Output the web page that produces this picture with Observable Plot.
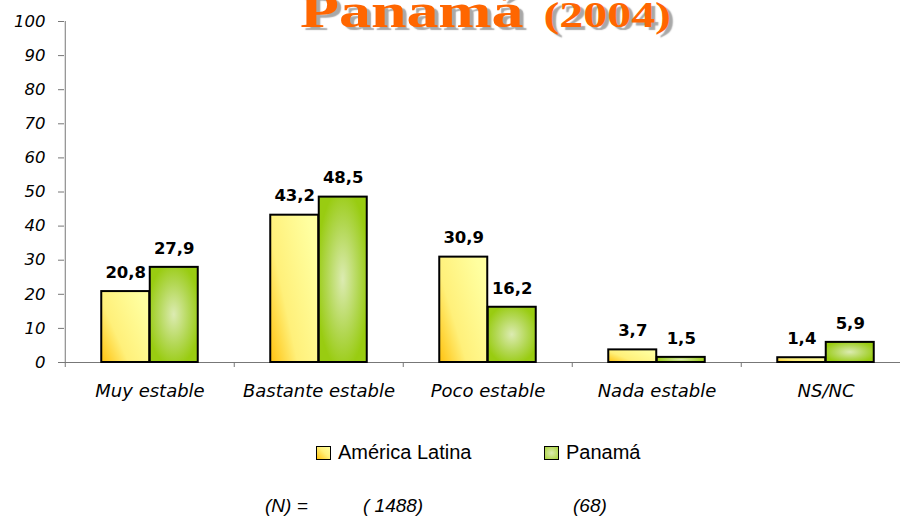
<!DOCTYPE html>
<html>
<head>
<meta charset="utf-8">
<script src="https://cdn.jsdelivr.net/npm/d3@7"></script>
<script src="https://cdn.jsdelivr.net/npm/@observablehq/plot@0.6"></script>
<style>
  body { margin: 0; background: #fff; }
  #wrap { position: relative; width: 900px; height: 516px; overflow: hidden; background: #fff; }
  #chart { position: absolute; left: 0; top: 0; }
  #chart svg g[aria-label="y-axis tick label"], #chart svg g[aria-label="y-axis tick label"] text { font-size: 16.5px; font-style: italic; font-family: "DejaVu Sans", sans-serif; }
  #chart svg g[aria-label="x-axis tick label"] { font-size: 18px; font-style: italic; font-family: "DejaVu Sans", sans-serif; }
  #title { position: absolute; left: 300px; top: -13px; white-space: nowrap; line-height: 48px;
           font-family: "Liberation Serif", "DejaVu Serif", serif; font-weight: bold; color: #FF6600;
           text-shadow: 3px 3px 1px #a8a8a8; transform: scaleX(1.33); transform-origin: 0 0; }
  #title .big { font-size: 48px; }
  #title .small { font-size: 36px; margin-left: 6px; }
  .leg { position: absolute; font-family: "Liberation Sans", Arial, sans-serif; font-size: 20px; line-height: 20px; color: #000; white-space: nowrap; }
  .sw { position: absolute; width: 13px; height: 12px; border: 1.5px solid #000; }
  .nl { position: absolute; font-family: "Liberation Sans", Arial, sans-serif; font-style: italic; font-size: 19px; line-height: 19px; color: #000; white-space: nowrap; }
</style>
</head>
<body>
<div id="wrap">
  <div id="chart"></div>
  <div id="title"><span class="big">Panamá</span><span class="small"> (2004)</span></div>
  <div id="legend"></div>
  <div id="nline"></div>
</div>
<script>
const categories = ["Muy estable", "Bastante estable", "Poco estable", "Nada estable", "NS/NC"];
const seriesNames = ["América Latina", "Panamá"];
const latinaValues = [20.8, 43.2, 30.9, 3.7, 1.4];
const panamaValues = [27.9, 48.5, 16.2, 1.5, 5.9];
const yTicks = [0, 10, 20, 30, 40, 50, 60, 70, 80, 90, 100];
const sampleLabels = ["(N) =", "( 1488)", "(68)"];

const fmt = v => v.toFixed(1).replace(".", ",");
const latina = categories.map((c, i) => ({category: c, value: latinaValues[i]}));
const panama = categories.map((c, i) => ({category: c, value: panamaValues[i]}));

const W = 900, ML = 64, MR = -11.5;
const band = (W - MR - ML) / categories.length;
const barW = 48.5;
const outer = (band - 2 * barW) / 2;

const svg = Plot.plot({
  width: W, height: 410,
  marginTop: 21, marginBottom: 48, marginLeft: ML, marginRight: MR,
  style: {fontFamily: "DejaVu Sans", background: "transparent", color: "#000"},
  x: {domain: categories, padding: 0, label: null},
  y: {domain: [0, 100], label: null},
  marks: [
    Plot.axisY({ticks: yTicks, tickSize: 6, tickPadding: 13, fontSize: 16.5, fontStyle: "italic", stroke: "#777", fill: "#000", label: null}),
    Plot.ruleX([categories[0]], {x: d => d, dx: -band / 2, stroke: "#777"}),
    Plot.ruleY([0], {stroke: "#777"}),
    Plot.axisX({tickSize: 5, tickFormat: () => "", dx: -band / 2, stroke: "#777", label: null}),
    Plot.axisX({tickSize: 0, tickPadding: 22, fontSize: 18, fontStyle: "italic", fill: "#000", label: null}),
    Plot.barY(latina, {x: "category", y: "value", fill: "url(#gy)", stroke: "#000", strokeWidth: 2, insetLeft: outer, insetRight: outer + barW}),
    Plot.barY(panama, {x: "category", y: "value", fill: "url(#gg)", stroke: "#000", strokeWidth: 2, insetLeft: outer + barW, insetRight: outer}),
    Plot.text(latina, {x: "category", y: "value", text: d => fmt(d.value), dx: -barW / 2, dy: -19, fontWeight: "bold", fontSize: 16.5, fill: "#000"}),
    Plot.text(panama, {x: "category", y: "value", text: d => fmt(d.value), dx: barW / 2, dy: -19, fontWeight: "bold", fontSize: 16.5, fill: "#000"})
  ]
});

const defs = document.createElementNS("http://www.w3.org/2000/svg", "defs");
defs.innerHTML = `
  <linearGradient id="gy" x1="0" y1="1" x2="1" y2="0.35">
    <stop offset="0" stop-color="#FFC20E"/>
    <stop offset="0.4" stop-color="#FFF07A"/>
    <stop offset="1" stop-color="#FFFFA0"/>
  </linearGradient>
  <radialGradient id="gg" cx="0.5" cy="0.5" r="0.55">
    <stop offset="0" stop-color="#DCEBB2"/>
    <stop offset="0.6" stop-color="#B2D752"/>
    <stop offset="1" stop-color="#99CC11"/>
  </radialGradient>`;
svg.insertBefore(defs, svg.firstChild);
svg.querySelectorAll('g[aria-label="y-axis tick label"] text').forEach(t => {
  t.setAttribute("font-style", "italic");
  t.style.fontStyle = "italic";
});
document.getElementById("chart").appendChild(svg);

// legend
const legend = document.getElementById("legend");
const legendItems = [
  {name: seriesNames[0], sx: 316, tx: 338, bg: "linear-gradient(45deg, #FFC20E, #FFF07A 55%, #FFFF9E)"},
  {name: seriesNames[1], sx: 544, tx: 566, bg: "radial-gradient(#DCEBB2, #A8D33A)"}
];
legendItems.forEach(it => {
  const s = document.createElement("div");
  s.className = "sw";
  s.style.left = it.sx + "px"; s.style.top = "446px"; s.style.background = it.bg;
  legend.appendChild(s);
  const t = document.createElement("div");
  t.className = "leg";
  t.style.left = it.tx + "px"; t.style.top = "442px";
  t.textContent = it.name;
  legend.appendChild(t);
});

// sample sizes
const nline = document.getElementById("nline");
[265, 363, 573].forEach((x, i) => {
  const t = document.createElement("div");
  t.className = "nl";
  t.style.left = x + "px"; t.style.top = "496px";
  t.textContent = sampleLabels[i];
  nline.appendChild(t);
});
</script>
</body>
</html>
